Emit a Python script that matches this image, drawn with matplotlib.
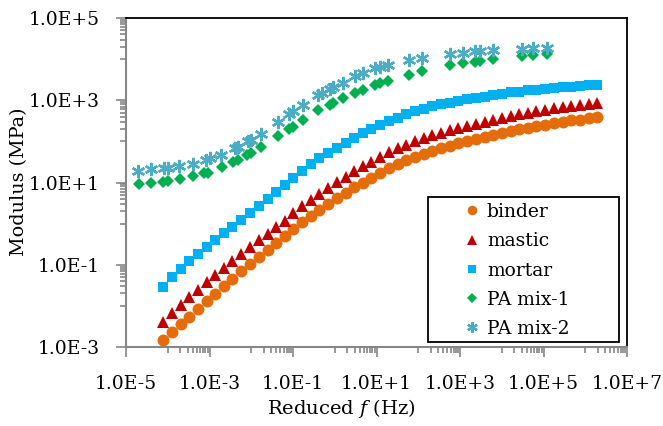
import numpy as np
import matplotlib
matplotlib.use("Agg")
import matplotlib.pyplot as plt
from matplotlib.ticker import FixedLocator, FuncFormatter, NullFormatter
from matplotlib.patches import Rectangle

plt.rcParams["font.family"] = "DejaVu Serif"
plt.rcParams["mathtext.fontset"] = "dejavuserif"

# log10 of reduced frequency (Hz), shared by binder / mastic / mortar
freq_log = [-4.11, -3.90, -3.69, -3.49, -3.28, -3.07, -2.86, -2.65, -2.45, -2.24,
            -2.03, -1.82, -1.61, -1.41, -1.20, -0.99, -0.78, -0.57, -0.37, -0.16,
            0.05, 0.26, 0.47, 0.67, 0.88, 1.09, 1.30, 1.51, 1.71, 1.92,
            2.13, 2.34, 2.55, 2.75, 2.96, 3.17, 3.38, 3.59, 3.79, 4.00,
            4.21, 4.42, 4.63, 4.83, 5.04, 5.25, 5.46, 5.67, 5.87, 6.08, 6.29]

# log10 of modulus (MPa)
binder_log = [-2.83, -2.64, -2.45, -2.26, -2.07, -1.88, -1.70, -1.52, -1.34, -1.16,
              -0.98, -0.81, -0.64, -0.47, -0.30, -0.13, 0.03, 0.19, 0.34, 0.48,
              0.62, 0.75, 0.88, 1.00, 1.12, 1.24, 1.35, 1.45, 1.54, 1.62,
              1.70, 1.77, 1.83, 1.89, 1.95, 2.00, 2.05, 2.10, 2.15, 2.21,
              2.25, 2.29, 2.33, 2.38, 2.41, 2.44, 2.47, 2.51, 2.53, 2.56, 2.59]
mastic_log = [-2.39, -2.18, -1.98, -1.79, -1.61, -1.42, -1.24, -1.07, -0.90, -0.74,
              -0.58, -0.41, -0.25, -0.09, 0.07, 0.25, 0.43, 0.58, 0.73, 0.87,
              1.01, 1.14, 1.27, 1.39, 1.51, 1.62, 1.73, 1.83, 1.92, 2.00,
              2.08, 2.15, 2.21, 2.27, 2.33, 2.38, 2.43, 2.48, 2.53, 2.58,
              2.62, 2.66, 2.70, 2.74, 2.77, 2.80, 2.83, 2.86, 2.88, 2.91, 2.94]
mortar_log = [-1.54, -1.31, -1.10, -0.91, -0.74, -0.57, -0.40, -0.24, -0.08, 0.09,
              0.26, 0.43, 0.60, 0.77, 0.93, 1.11, 1.29, 1.44, 1.59, 1.72,
              1.85, 1.97, 2.09, 2.20, 2.30, 2.40, 2.49, 2.58, 2.66, 2.73,
              2.79, 2.85, 2.90, 2.94, 2.98, 3.02, 3.05, 3.09, 3.12, 3.16,
              3.19, 3.21, 3.24, 3.26, 3.28, 3.30, 3.32, 3.33, 3.34, 3.36, 3.37]

pa1_freq_log = [-4.70, -4.40, -4.11, -4.00, -3.71, -3.40, -3.12, -3.04, -2.71, -2.43,
                -2.32, -2.09, -2.01, -1.77, -1.37, -1.09, -1.01, -0.76, -0.39, -0.11,
                -0.03, 0.20, 0.48, 0.68, 0.96, 1.08, 1.28, 1.79, 2.08, 2.76,
                3.08, 3.36, 3.48, 3.78, 4.48, 4.76, 5.08]
pa1_log = [0.97, 1.00, 1.02, 1.04, 1.08, 1.16, 1.23, 1.24, 1.37, 1.51,
           1.55, 1.67, 1.71, 1.87, 2.12, 2.30, 2.35, 2.53, 2.77, 2.89,
           2.94, 3.05, 3.17, 3.25, 3.37, 3.41, 3.48, 3.62, 3.70, 3.86,
           3.90, 3.94, 3.96, 4.01, 4.08, 4.10, 4.13]

pa2_freq_log = [-4.72, -4.40, -4.08, -4.00, -3.72, -3.40, -3.08, -3.00, -2.72, -2.40,
                -2.32, -2.08, -2.01, -1.77, -1.37, -1.09, -1.01, -0.76, -0.39, -0.31,
                -0.11, -0.03, 0.20, 0.48, 0.68, 0.96, 1.08, 1.28, 1.79, 2.08,
                2.76, 3.08, 3.36, 3.48, 3.78, 4.48, 4.76, 5.08]
pa2_log = [1.29, 1.32, 1.35, 1.36, 1.39, 1.45, 1.55, 1.59, 1.67, 1.83,
           1.87, 2.00, 2.04, 2.18, 2.46, 2.67, 2.73, 2.89, 3.13, 3.17,
           3.27, 3.32, 3.43, 3.58, 3.66, 3.78, 3.81, 3.86, 3.97, 4.02,
           4.13, 4.16, 4.19, 4.19, 4.21, 4.24, 4.26, 4.27]

x_major = [-5, -3, -1, 1, 3, 5, 7]
y_major = [-3, -1, 1, 3, 5]

GRAY = "#868686"
FS = 13.5

fig = plt.figure(figsize=(6.63, 4.26), dpi=100)
ax = fig.add_axes([126 / 663, 79 / 426, 501 / 663, 329 / 426])

f = 10 ** np.array(freq_log)
ax.plot(f, 10 ** np.array(binder_log), "o", color="#E46C0A", ms=8.6, mew=0, label="binder")
ax.plot(f, 10 ** np.array(mastic_log), "^", color="#C00000", ms=9.2, mew=0, label="mastic")
ax.plot(f, 10 ** np.array(mortar_log), "s", color="#00B0F0", ms=7.6, mew=0, label="mortar")
ax.plot(10 ** np.array(pa1_freq_log), 10 ** np.array(pa1_log), "D", color="#00B050",
        ms=6, mew=0, label="PA mix-1")
ax.plot(10 ** np.array(pa2_freq_log), 10 ** np.array(pa2_log), marker=(6, 2, 0), ls="none",
        color="#4BACC6", ms=9.5, mew=1.7, label="PA mix-2")

ax.set_xscale("log")
ax.set_yscale("log")
ax.set_xlim(1e-5, 1e7)
ax.set_ylim(1e-3, 1e5)


def minor_positions(majors):
    pos = []
    for e in majors[:-1]:
        for m in range(10, 100, 10):
            pos.append(m * 10.0 ** e)
    return pos


fmt = FuncFormatter(lambda v, p: "1.0E%+d" % int(round(np.log10(v))))
for axis, majors in ((ax.xaxis, x_major), (ax.yaxis, y_major)):
    axis.set_major_locator(FixedLocator([10.0 ** e for e in majors]))
    axis.set_minor_locator(FixedLocator(minor_positions(majors)))
    axis.set_major_formatter(fmt)
    axis.set_minor_formatter(NullFormatter())

ax.tick_params(which="both", direction="out", color=GRAY, width=1.2, labelsize=FS,
               top=False, right=False)
ax.tick_params(which="major", length=7)
ax.tick_params(which="minor", length=4)
ax.tick_params(axis="y", which="major", pad=12)
ax.tick_params(axis="x", which="major", pad=13)

ax.spines["left"].set_color(GRAY)
ax.spines["bottom"].set_color(GRAY)
ax.spines["left"].set_linewidth(1.5)
ax.spines["bottom"].set_linewidth(1.5)
ax.spines["top"].set_color("black")
ax.spines["right"].set_color("black")
ax.spines["top"].set_linewidth(1.3)
ax.spines["right"].set_linewidth(1.3)

fig.text(19 / 663, 1 - 182 / 426, "Modulus (MPa)", rotation=90, ha="center", va="center",
         fontsize=FS + 0.3)
fig.text(341 / 663, 1 - 408 / 426, "Reduced $f$ (Hz)", ha="center", va="center",
         fontsize=FS + 0.5)

# legend box
ax.add_patch(Rectangle((0.603, 0.015), 0.381, 0.441, transform=ax.transAxes, fill=False,
                       edgecolor="black", lw=1.3, zorder=5))
ax.legend(loc="upper left", bbox_to_anchor=(0.668, 0.449), frameon=False, fontsize=FS,
          handlelength=0.8, handletextpad=0.4, labelspacing=0.6, borderpad=0.2,
          borderaxespad=0, markerscale=0.8)

fig.savefig("out.png", dpi=100)
